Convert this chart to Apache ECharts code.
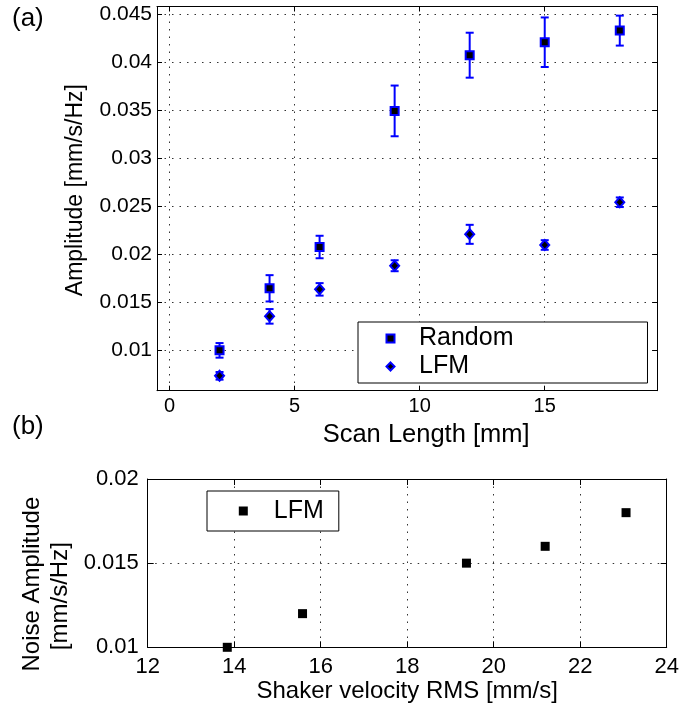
<!DOCTYPE html>
<html>
<head>
<meta charset="utf-8">
<script src="https://cdn.jsdelivr.net/npm/echarts@6/dist/echarts.min.js"></script>
<style>
  html, body { margin: 0; padding: 0; background: #fff; }
  #chart { width: 683px; height: 708px; }
</style>
</head>
<body>
<div id="chart"></div>
<script>
// (a) amplitude vs scan length, mean +/- error
var scanLength = [2, 4, 6, 9, 12, 15, 18];
var randomAmp = [0.0100, 0.01646, 0.02076, 0.03493, 0.04073, 0.04208, 0.04329];
var randomErr = [0.00076, 0.00137, 0.00117, 0.00264, 0.00234, 0.00258, 0.00156];
var lfmAmp = [0.00735, 0.01354, 0.01635, 0.01881, 0.02208, 0.02097, 0.02542];
var lfmErr = [0.0004, 0.00076, 0.00065, 0.00057, 0.00099, 0.0005, 0.0005];
var scanTicks = [0, 5, 10, 15];
var ampTicks = [0.01, 0.015, 0.02, 0.025, 0.03, 0.035, 0.04, 0.045];

// (b) noise amplitude vs shaker velocity
var shakerRms = [13.84, 15.58, 19.37, 21.19, 23.06];
var noiseAmp = [0.0100, 0.0120, 0.0150, 0.0160, 0.0180];

var FONT = 'Liberation Sans, Arial, sans-serif';
var BLUE = '#0000ff';

function zip(xs, ys) {
    return xs.map(function (x, i) { return [x, ys[i]]; });
}
function errRange(xs, ys, es) {
    return xs.map(function (x, i) { return [x, ys[i] - es[i], ys[i] + es[i]]; });
}

function errorBar(params, api) {
    var x = api.value(0);
    var top = api.coord([x, api.value(2)]);
    var bot = api.coord([x, api.value(1)]);
    var w = 4;
    var style = {stroke: BLUE, lineWidth: 2, fill: null};
    return {
        type: 'group',
        children: [
            {type: 'line', shape: {x1: top[0], y1: top[1], x2: bot[0], y2: bot[1]}, style: style},
            {type: 'line', shape: {x1: top[0] - w, y1: top[1], x2: top[0] + w, y2: top[1]}, style: style},
            {type: 'line', shape: {x1: bot[0] - w, y1: bot[1], x2: bot[0] + w, y2: bot[1]}, style: style}
        ]
    };
}

var gridLine = {show: true, lineStyle: {color: '#333', width: 1, type: [1.5, 6]}};
var blackLine = {show: true, onZero: false, lineStyle: {color: '#000', width: 1}};
var fmt = function (v) { return String(Math.round(v * 10000) / 10000); };

var myChart = echarts.init(document.getElementById('chart'));
myChart.setOption({
    animation: false,
    backgroundColor: '#fff',
    textStyle: {fontFamily: FONT, color: '#000'},
    title: [
        {text: '(a)', left: 12, top: 6, padding: 0,
            textStyle: {fontSize: 26, fontWeight: 'normal', color: '#000', fontFamily: FONT}},
        {text: '(b)', left: 12, top: 414, padding: 0,
            textStyle: {fontSize: 26, fontWeight: 'normal', color: '#000', fontFamily: FONT}}
    ],
    legend: [
        {
            data: ['Random', 'LFM'],
            orient: 'vertical',
            left: 358, top: 322,
            itemWidth: 8, itemHeight: 8, itemGap: 3,
            padding: [4, 134, 4, 27.5],
            borderColor: '#000', borderWidth: 1, backgroundColor: '#fff',
            selectedMode: false,
            textStyle: {fontSize: 25, lineHeight: 25, color: '#000', fontFamily: FONT, padding: [0, 0, 0, 19.5]}
        },
        {
            data: ['LFM (b)'],
            formatter: function () { return 'LFM'; },
            orient: 'vertical',
            left: 207, top: 491,
            itemWidth: 9, itemHeight: 9,
            padding: [7.5, 15, 7.5, 31.8],
            borderColor: '#000', borderWidth: 1, backgroundColor: '#fff',
            selectedMode: false,
            textStyle: {fontSize: 25, lineHeight: 25, color: '#000', fontFamily: FONT, padding: [0, 0, 0, 21]}
        }
    ],
    grid: [
        {left: 157, top: 6.5, right: 25.7, bottom: 317.3, containLabel: false, outerBoundsMode: 'none'},
        {left: 147.7, top: 479, right: 16.3, bottom: 60.7, containLabel: false, outerBoundsMode: 'none'}
    ],
    xAxis: [
        {
            gridIndex: 0, type: 'value', min: -0.5, max: 19.5, position: 'bottom',
            axisLine: blackLine,
            axisTick: {show: true, inside: true, length: 5, customValues: scanTicks, lineStyle: {color: '#000'}},
            axisLabel: {customValues: scanTicks, fontSize: 20, color: '#000', margin: 6, fontFamily: FONT},
            splitLine: gridLine,
            name: 'Scan Length [mm]', nameLocation: 'middle', nameGap: 28,
            nameTextStyle: {fontSize: 25.5, color: '#000', fontFamily: FONT, padding: [0, 0, 0, 38]}
        },
        {
            gridIndex: 0, type: 'value', min: -0.5, max: 19.5, position: 'top',
            axisLine: blackLine,
            axisTick: {show: true, inside: true, length: 5, customValues: scanTicks, lineStyle: {color: '#000'}},
            axisLabel: {show: false},
            splitLine: {show: false}
        },
        {
            gridIndex: 1, type: 'value', min: 12, max: 24, interval: 2, position: 'bottom',
            axisLine: blackLine,
            axisTick: {show: true, inside: true, length: 6, lineStyle: {color: '#000'}},
            axisLabel: {fontSize: 22, color: '#000', margin: 9, fontFamily: FONT},
            splitLine: gridLine,
            name: 'Shaker velocity RMS [mm/s]', nameLocation: 'middle', nameGap: 32,
            nameTextStyle: {fontSize: 24, color: '#000', fontFamily: FONT}
        },
        {
            gridIndex: 1, type: 'value', min: 12, max: 24, interval: 2, position: 'top',
            axisLine: blackLine,
            axisTick: {show: true, inside: true, length: 6, lineStyle: {color: '#000'}},
            axisLabel: {show: false},
            splitLine: {show: false}
        }
    ],
    yAxis: [
        {
            gridIndex: 0, type: 'value', min: 0.0058, max: 0.0458, position: 'left',
            axisLine: blackLine,
            axisTick: {show: true, inside: true, length: 5, customValues: ampTicks, lineStyle: {color: '#000'}},
            axisLabel: {customValues: ampTicks, fontSize: 21, color: '#000', margin: 5, fontFamily: FONT, formatter: fmt},
            splitLine: gridLine,
            name: 'Amplitude [mm/s/Hz]', nameLocation: 'middle', nameGap: 69.5,
            nameTextStyle: {fontSize: 23, color: '#000', fontFamily: FONT, padding: [0, 0, 0, 17]}
        },
        {
            gridIndex: 0, type: 'value', min: 0.0058, max: 0.0458, position: 'right',
            axisLine: blackLine,
            axisTick: {show: true, inside: true, length: 5, customValues: ampTicks, lineStyle: {color: '#000'}},
            axisLabel: {show: false},
            splitLine: {show: false}
        },
        {
            gridIndex: 1, type: 'value', min: 0.01, max: 0.02, interval: 0.005, position: 'left',
            axisLine: blackLine,
            axisTick: {show: true, inside: true, length: 6, lineStyle: {color: '#000'}},
            axisLabel: {fontSize: 22, color: '#000', margin: 9, fontFamily: FONT, formatter: fmt},
            splitLine: gridLine,
            name: '{a|Noise Amplitude}\n{b|[mm/s/Hz]}', nameLocation: 'middle', nameGap: 71.7,
            nameTextStyle: {
                fontSize: 24, color: '#000', fontFamily: FONT,
                rich: {
                    a: {fontSize: 24, lineHeight: 28.7, fontFamily: FONT, color: '#000', padding: [0, 42, 0, 0]},
                    b: {fontSize: 24, lineHeight: 28.7, fontFamily: FONT, color: '#000', padding: [0, 66, 0, 0]}
                }
            }
        },
        {
            gridIndex: 1, type: 'value', min: 0.01, max: 0.02, interval: 0.005, position: 'right',
            axisLine: blackLine,
            axisTick: {show: true, inside: true, length: 6, lineStyle: {color: '#000'}},
            axisLabel: {show: false},
            splitLine: {show: false}
        }
    ],
    series: [
        {
            name: 'Random err', type: 'custom', xAxisIndex: 0, yAxisIndex: 0,
            renderItem: errorBar, encode: {x: 0, y: [1, 2]},
            data: errRange(scanLength, randomAmp, randomErr), silent: true
        },
        {
            name: 'LFM err', type: 'custom', xAxisIndex: 0, yAxisIndex: 0,
            renderItem: errorBar, encode: {x: 0, y: [1, 2]},
            data: errRange(scanLength, lfmAmp, lfmErr), silent: true
        },
        {
            name: 'Random', type: 'scatter', xAxisIndex: 0, yAxisIndex: 0,
            symbol: 'rect', symbolSize: 8,
            itemStyle: {color: '#000', borderColor: BLUE, borderWidth: 2, opacity: 1},
            emphasis: {disabled: true},
            data: zip(scanLength, randomAmp)
        },
        {
            name: 'LFM', type: 'scatter', xAxisIndex: 0, yAxisIndex: 0,
            symbol: 'diamond', symbolSize: [9, 10],
            itemStyle: {color: '#000', borderColor: BLUE, borderWidth: 2, opacity: 1},
            emphasis: {disabled: true},
            data: zip(scanLength, lfmAmp)
        },
        {
            name: 'LFM (b)', type: 'scatter', xAxisIndex: 2, yAxisIndex: 2,
            symbol: 'rect', symbolSize: 9,
            itemStyle: {color: '#000', opacity: 1},
            emphasis: {disabled: true},
            data: zip(shakerRms, noiseAmp)
        }
    ]
});
</script>
</body>
</html>
